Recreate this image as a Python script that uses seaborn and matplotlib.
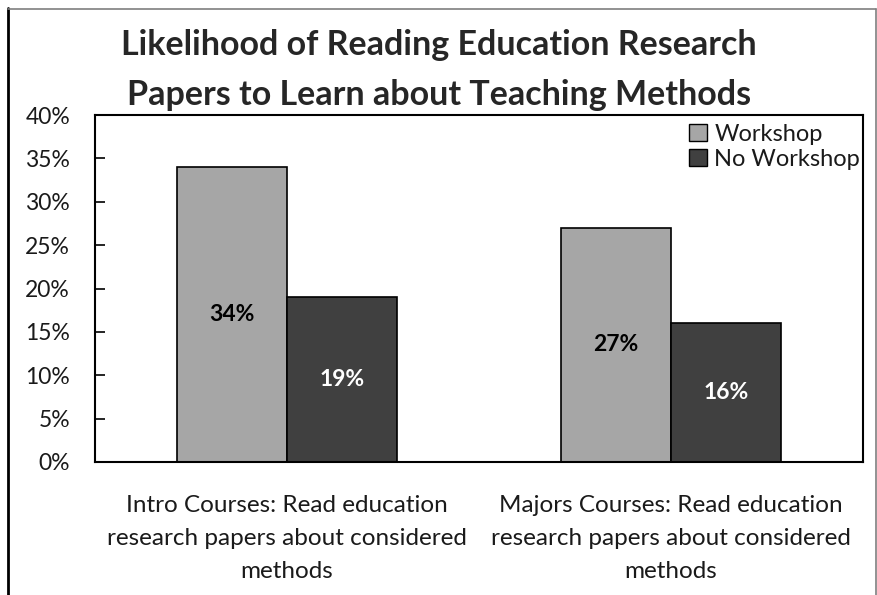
import matplotlib
matplotlib.use("Agg")
import matplotlib.pyplot as plt
import seaborn as sns
import pandas as pd
from matplotlib.lines import Line2D
from matplotlib.ticker import FuncFormatter, MultipleLocator

categories = ["Intro Courses: Read education\nresearch papers about considered\nmethods",
              "Majors Courses: Read education\nresearch papers about considered\nmethods"]
groups = ["Workshop", "No Workshop"]
workshop = [34, 27]
no_workshop = [19, 16]

df = pd.DataFrame({
    "cat": categories * 2,
    "grp": [groups[0]] * 2 + [groups[1]] * 2,
    "val": workshop + no_workshop,
})

sns.set_theme(style="white")
plt.rcParams['font.family'] = ['Lato', 'DejaVu Sans']

W, H = 878, 595
fig = plt.figure(figsize=(W / 100, H / 100), dpi=100)
ax = fig.add_axes([95 / W, 1 - 462 / H, (863 - 95) / W, (462 - 115) / H])

palette = {"Workshop": "#A6A6A6", "No Workshop": "#404040"}
sns.barplot(data=df, x="cat", y="val", hue="grp", palette=palette, width=0.573,
            edgecolor="black", linewidth=1.2, saturation=1, ax=ax, legend=True)

ax.set_xlim(-0.5, 1.5)
ax.set_ylim(0, 40)
ax.yaxis.set_major_locator(MultipleLocator(5))
ax.yaxis.set_major_formatter(FuncFormatter(lambda v, p: f"{v:.0f}%"))
ax.set_xlabel("")
ax.set_ylabel("")
for s in ax.spines.values():
    s.set_visible(True)
    s.set_color("black")
    s.set_linewidth(1.5)
ax.tick_params(axis="y", direction="in", length=7, width=1.2, left=True, labelsize=16.5, pad=18, colors="black")
ax.tick_params(axis="x", length=0, labelsize=17.5, pad=24, colors="black")
for lbl in ax.get_yticklabels():
    lbl.set_color("#1a1a1a")
for lbl in ax.get_xticklabels():
    lbl.set_linespacing(1.7)
    lbl.set_color("#1a1a1a")

for container, color in zip(ax.containers, ["black", "white"]):
    for bar in container:
        h = bar.get_height()
        ax.text(bar.get_x() + bar.get_width() / 2, h / 2, f"{h:.0f}%",
                ha="center", va="center", fontsize=16.5, fontweight="bold", color=color)

leg = ax.legend(loc="upper right", frameon=False, fontsize=17, handlelength=0.75,
                handleheight=0.75, handletextpad=0.3, labelspacing=0.15,
                borderpad=0.0, borderaxespad=0.0, bbox_to_anchor=(1 - 3 / 768, 1 - 9 / 347))
for h in leg.legend_handles:
    h.set_edgecolor("black")
    h.set_linewidth(1.0)
for t in leg.get_texts():
    t.set_color("#1a1a1a")

fig.text(0.5, 1 - 70 / H, "Likelihood of Reading Education Research\nPapers to Learn about Teaching Methods",
         ha="center", va="center", fontsize=24.5, fontweight="bold", linespacing=1.7)

# outer chart-area border
fig.add_artist(Line2D([8 / W, 8 / W], [0, 1 - 8 / H], transform=fig.transFigure, color="black", linewidth=2))
fig.add_artist(Line2D([8 / W, 876 / W], [1 - 9 / H, 1 - 9 / H], transform=fig.transFigure, color="#7f7f7f", linewidth=1.2))
fig.add_artist(Line2D([876 / W, 876 / W], [0, 1 - 9 / H], transform=fig.transFigure, color="#7f7f7f", linewidth=1.2))

fig.savefig("out.png", dpi=100)
